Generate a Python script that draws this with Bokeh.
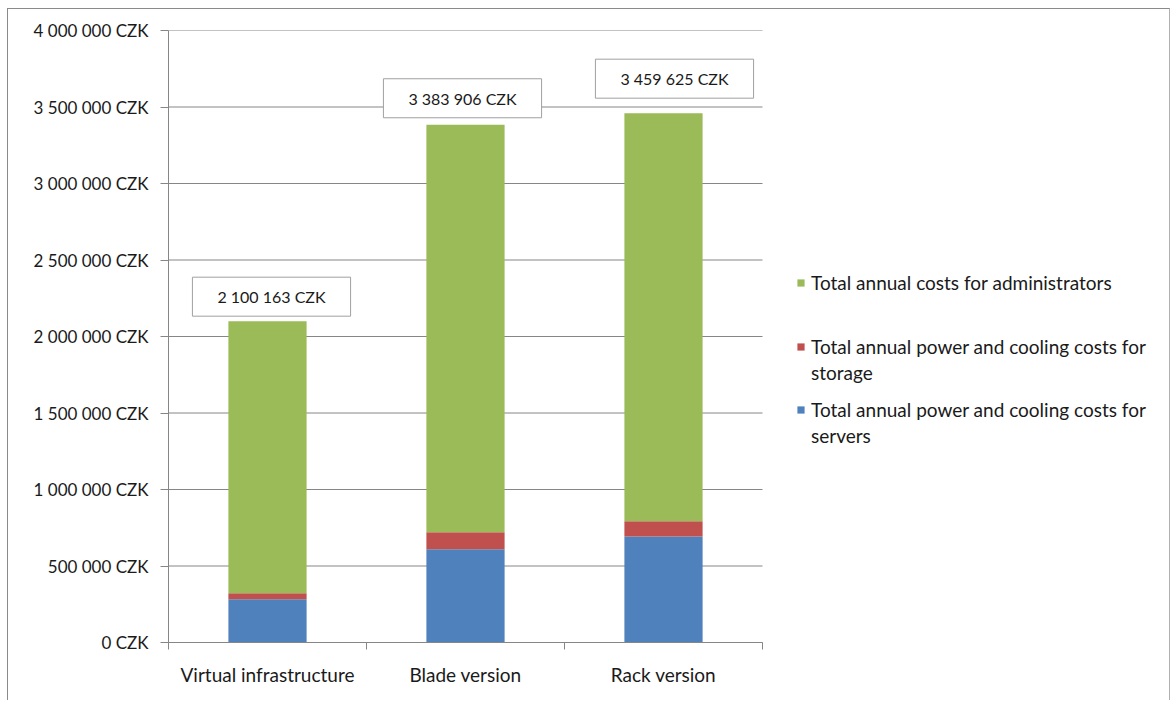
from bokeh.plotting import figure
from bokeh.models import (FixedTicker, Legend, LegendItem, Label, Range1d,
                          ColumnDataSource)
from bokeh.embed import file_html
from bokeh.resources import INLINE

# ---- data ----
categories = ["Virtual infrastructure", "Blade version", "Rack version"]
servers = [283000, 610000, 693000]
storage = [39000, 111000, 100000]
admins = [1778163, 2662906, 2666625]
totals = [2100163, 3383906, 3459625]
total_labels = ["2 100 163 CZK", "3 383 906 CZK", "3 459 625 CZK"]
series_names = [["Total annual power and cooling costs for", "servers"],
                ["Total annual power and cooling costs for", "storage"],
                ["Total annual costs for administrators"]]
y_ticks = [0, 500000, 1000000, 1500000, 2000000, 2500000, 3000000, 3500000, 4000000]
y_tick_labels = ["0 CZK", "500 000 CZK", "1 000 000 CZK", "1 500 000 CZK",
                 "2 000 000 CZK", "2 500 000 CZK", "3 000 000 CZK",
                 "3 500 000 CZK", "4 000 000 CZK"]

# ---- style / layout ----
FONT = "Lato"
colors = ["#4F81BD", "#C0504D", "#9BBB59"]
GRID = "#868686"
label_nudge_x = [4, -3, 11]   # px
label_gap_y = [5, 7, 15]      # px
W, H = 1163, 692
B_LEFT, B_TOP, B_RIGHT, B_BOTTOM = 160, 21, 1, 59
CAT_PX = 198
legend_locs = [(628, 194), (628, 257), (628, 347)]   # px from frame bottom-left

ncat = len(categories)
xpos = [i + 0.5 for i in range(ncat)]
frame_w = W - B_LEFT - B_RIGHT
src = ColumnDataSource(dict(x=xpos, servers=servers, storage=storage, admins=admins))

p = figure(width=W, height=H, output_backend="svg", toolbar_location=None,
           x_range=Range1d(0, frame_w / CAT_PX), y_range=Range1d(0, 4000000))
p.min_border_left = B_LEFT
p.min_border_top = B_TOP
p.min_border_right = B_RIGHT
p.min_border_bottom = B_BOTTOM
p.outline_line_color = None
p.background_fill_color = "white"
p.border_fill_color = "white"
p.styles = {"border-left": "1px solid #8a8a8a", "border-top": "1px solid #8a8a8a",
            "border-right": "1px solid #b0b0b0",
            "margin-left": "7px", "margin-top": "8px"}
p.xgrid.grid_line_color = None
p.ygrid.grid_line_color = None

# gridlines limited to the category area
p.segment(x0=[0] * len(y_ticks), x1=[ncat] * len(y_ticks), y0=y_ticks, y1=y_ticks,
          line_color=GRID, line_width=1)

rs = p.vbar_stack(["servers", "storage", "admins"], x="x", width=0.395,
                  source=src, color=colors, line_color=None)

# y axis
ya = p.yaxis[0]
ya.ticker = FixedTicker(ticks=y_ticks, minor_ticks=[])
ya.major_label_overrides = {t: l for t, l in zip(y_ticks, y_tick_labels)}
ya.axis_line_color = GRID
ya.major_tick_line_color = GRID
ya.major_tick_out = 8
ya.major_tick_in = 0
ya.minor_tick_line_color = None
ya.major_label_standoff = 12
ya.major_label_text_font = FONT
ya.major_label_text_font_size = "17px"
ya.major_label_text_color = "#1a1a1a"

# x axis
xa = p.xaxis[0]
xa.bounds = (0, ncat)
xa.ticker = FixedTicker(ticks=xpos, minor_ticks=list(range(ncat + 1)))
xa.major_label_overrides = {x: c for x, c in zip(xpos, categories)}
xa.axis_line_color = GRID
xa.major_tick_line_color = None
xa.major_tick_out = 0
xa.major_tick_in = 0
xa.minor_tick_line_color = GRID
xa.minor_tick_out = 7
xa.minor_tick_in = 0
xa.major_label_standoff = 13
xa.major_label_text_font = FONT
xa.major_label_text_font_size = "19px"
xa.major_label_text_color = "#1a1a1a"

# total labels
for xv, tv, lab, dx, dy in zip(xpos, totals, total_labels, label_nudge_x, label_gap_y):
    p.add_layout(Label(x=xv, y=tv, text=lab, text_align="center",
                       text_baseline="bottom", x_offset=dx, y_offset=dy,
                       text_font=FONT, text_font_size="16px", text_color="#1a1a1a",
                       background_fill_color="white",
                       border_line_color="#a0a0a0", border_line_width=1,
                       padding=dict(left=25, right=25, top=10, bottom=10)))

# invisible renderer for continuation lines of legend labels
blank = p.rect(x=[], y=[], width=1, height=1, fill_alpha=0, line_alpha=0)

# legends: one per series, placed to the right of the category area
for r, lines, loc in zip(rs, series_names, legend_locs):
    its = [LegendItem(label=lines[0], renderers=[r])]
    its += [LegendItem(label=t, renderers=[blank]) for t in lines[1:]]
    lg = Legend(items=its, location=loc, padding=0, margin=0, spacing=0,
                border_line_color=None, background_fill_alpha=0,
                glyph_width=9, glyph_height=9, label_height=26,
                label_standoff=6, label_text_font=FONT,
                label_text_font_size="19px", label_text_color="#1a1a1a")
    p.add_layout(lg, "center")

open("out.html", "w").write(file_html(p, INLINE))
